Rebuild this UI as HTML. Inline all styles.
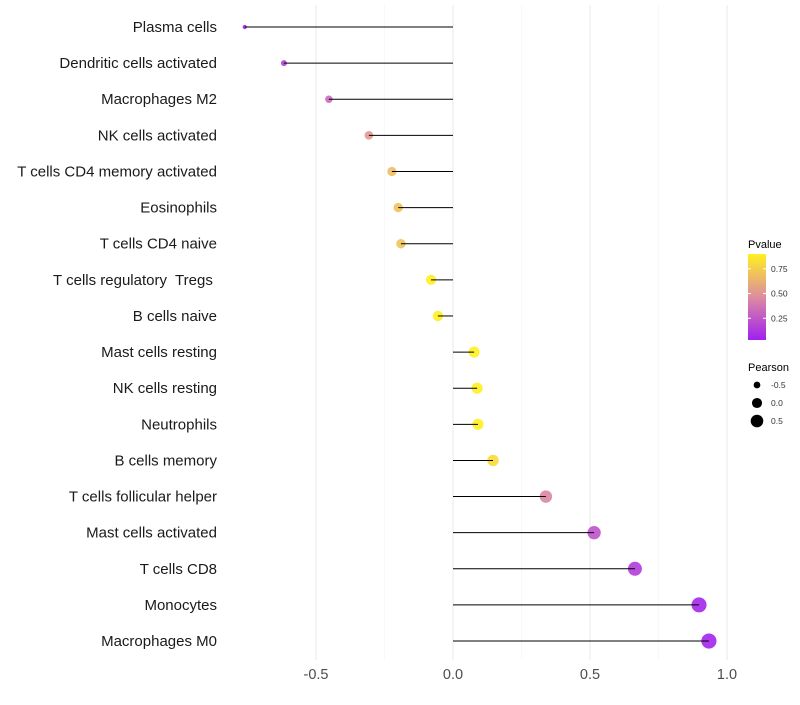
<!DOCTYPE html>
<html><head><meta charset="utf-8"><style>
body{margin:0;background:#fff;}
svg{font-family:"Liberation Sans",sans-serif;}
text{white-space:pre;}
</style></head><body>
<svg id="chart" width="800" height="700"></svg>
<script>
const categories=["Plasma cells","Dendritic cells activated","Macrophages M2","NK cells activated","T cells CD4 memory activated","Eosinophils","T cells CD4 naive","T cells regulatory  Tregs ","B cells naive","Mast cells resting","NK cells resting","Neutrophils","B cells memory","T cells follicular helper","Mast cells activated","T cells CD8","Monocytes","Macrophages M0"];
const pearson=[-0.76,-0.617,-0.453,-0.307,-0.223,-0.20,-0.19,-0.08,-0.055,0.077,0.088,0.091,0.146,0.339,0.515,0.664,0.898,0.934];
const pvalue=[0.03,0.15,0.35,0.55,0.7,0.72,0.72,0.95,0.95,0.93,0.93,0.9,0.82,0.48,0.25,0.15,0.06,0.05];
const xTicks=[-0.5,0,0.5,1.0];
const xTickLabels=["-0.5","0.0","0.5","1.0"];
const legendP=[0.75,0.5,0.25];
const legendS=[-0.5,0,0.5];

const NS="http://www.w3.org/2000/svg";
const svg=document.getElementById('chart');
function mk(t,a,p){const e=document.createElementNS(NS,t);for(const k in a)e.setAttribute(k,a[k]);(p||svg).appendChild(e);return e;}
const x=v=>453+v*274;
const y=i=>27+i*36.12;
const r=v=>5.6*Math.sqrt(Math.max(v+0.9,0.05));
function lerp(a,b,t){return a.map((c,i)=>Math.round(c+(b[i]-c)*t));}
function col(p){const s=[[0.03,[160,32,240]],[0.5,[221,140,160]],[0.9,[255,240,32]]];
 if(p<=s[0][0])return `rgb(${s[0][1]})`;if(p>=s[2][0])return `rgb(${s[2][1]})`;
 const k=p<0.5?0:1;const t=(p-s[k][0])/(s[k+1][0]-s[k][0]);return `rgb(${lerp(s[k][1],s[k+1][1],t)})`;}
[-0.25,0.25,0.75].forEach(v=>{const g=mk('line',{x1:x(v),x2:x(v),y1:5,y2:660,stroke:'#f3f3f3','stroke-width':0.6});

});
xTicks.forEach((v,i)=>{const g=mk('line',{x1:x(v),x2:x(v),y1:5,y2:660,stroke:'#ebebeb','stroke-width':1.1});


const t=mk('text',{x:x(v),y:679,'text-anchor':'middle','font-size':14.5,fill:'#4d4d4d'});t.textContent=xTickLabels[i];

});
categories.forEach((c,i)=>{
 const t=mk('text',{x:217,y:y(i)+5,'text-anchor':'end','font-size':15,fill:'#1a1a1a'});t.textContent=c;
 
 
 const d=mk('circle',{cx:x(pearson[i]),cy:y(i),r:r(pearson[i]),fill:col(pvalue[i]),'fill-opacity':0.9});
 
 
 const l=mk('line',{x1:x(0),x2:x(pearson[i]),y1:y(i),y2:y(i),stroke:'#000','stroke-width':1});
 
 
});
const lt=mk('text',{x:748,y:248,'font-size':11,fill:'#000'});lt.textContent='Pvalue';


const defs=mk('defs',{});const gr=mk('linearGradient',{id:'pg',x1:0,y1:1,x2:0,y2:0},defs);
[[0,0.03],[0.5,0.5],[1,0.9]].forEach(s=>mk('stop',{offset:s[0],'stop-color':col(s[1])},gr));
const bar=mk('rect',{x:748,y:254,width:18,height:86,fill:'url(#pg)'});


legendP.forEach(p=>{const yy=340-(p-0.03)/0.87*86;
 mk('line',{x1:748,x2:751,y1:yy,y2:yy,stroke:'#fff'});mk('line',{x1:763,x2:766,y1:yy,y2:yy,stroke:'#fff'});
 const t=mk('text',{x:771,y:yy+3,'font-size':8.5,fill:'#333'});t.textContent=p.toFixed(2);
 
 });
const st=mk('text',{x:748,y:371,'font-size':11,fill:'#000'});st.textContent='Pearson';


legendS.forEach((s,i)=>{const yy=385+i*18;
 const c=mk('circle',{cx:757,cy:yy,r:r(s)*0.95,fill:'#000'});
 
 
 const t=mk('text',{x:771,y:yy+3,'font-size':8.5,fill:'#333'});t.textContent=s===0?'0.0':String(s);
 
 });
</script>
</body></html>
